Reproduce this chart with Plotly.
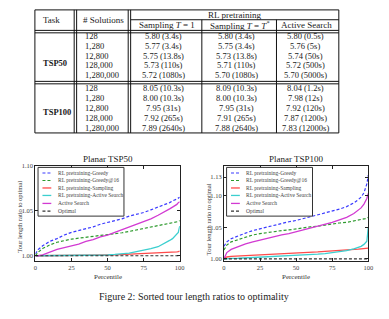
import plotly.graph_objects as go

W, H = 389, 319
SERIF = "Liberation Serif"

# ---------------- table data ----------------
rl_header = "RL pretraining"
col_headers = ["Task", "# Solutions", "Sampling <i>T</i> = 1",
               "Sampling <i>T</i> = <i>T</i><sup>*</sup>", "Active Search"]
tasks = ["TSP50", "TSP100"]
n_solutions = ["128", "1,280", "12,800", "128,000", "1,280,000"]
tsp50_sampling_t1 = ["5.80 (3.4s)", "5.77 (3.4s)", "5.75 (13.8s)", "5.73 (110s)", "5.72 (1080s)"]
tsp50_sampling_tstar = ["5.80 (3.4s)", "5.75 (3.4s)", "5.73 (13.8s)", "5.71 (110s)", "5.70 (1080s)"]
tsp50_active = ["5.80 (0.5s)", "5.76 (5s)", "5.74 (50s)", "5.72 (500s)", "5.70 (5000s)"]
tsp100_sampling_t1 = ["8.05 (10.3s)", "8.00 (10.3s)", "7.95 (31s)", "7.92 (265s)", "7.89 (2640s)"]
tsp100_sampling_tstar = ["8.09 (10.3s)", "8.00 (10.3s)", "7.95 (31s)", "7.91 (265s)", "7.88 (2640s)"]
tsp100_active = ["8.04 (1.2s)", "7.98 (12s)", "7.92 (120s)", "7.87 (1200s)", "7.83 (12000s)"]

# ---------------- chart data ----------------
series_names = ["RL pretraining-Greedy", "RL pretraining-Greedy@16", "RL pretraining-Sampling",
                "RL pretraining-Active Search", "Active Search", "Optimal"]
chart_titles = ["Planar TSP50", "Planar TSP100"]
pct = [0, 1, 2, 5, 10, 15, 20, 25, 30, 35, 40, 45, 50, 55, 60, 65, 70, 75, 80, 85, 90, 93, 95, 97, 98, 99, 100]

tsp50_greedy = [1.002, 1.005, 1.007, 1.011, 1.016, 1.019, 1.023, 1.026, 1.028, 1.030, 1.032, 1.035, 1.037,
                1.039, 1.041, 1.044, 1.046, 1.048, 1.051, 1.054, 1.057, 1.059, 1.061, 1.062, 1.063, 1.064, 1.065]
tsp50_greedy16 = [1.000, 1.002, 1.004, 1.008, 1.012, 1.015, 1.017, 1.0185, 1.0195, 1.0205, 1.0215, 1.022, 1.023,
                  1.024, 1.0255, 1.027, 1.0285, 1.030, 1.0315, 1.033, 1.035, 1.036, 1.0365, 1.037, 1.0375, 1.038, 1.039]
tsp50_sampling = [1.000, 1.000, 1.000, 1.000, 1.000, 1.000, 1.0001, 1.0001, 1.0002, 1.0002, 1.0003, 1.0005, 1.0008,
                  1.001, 1.0013, 1.0016, 1.002, 1.0023, 1.0027, 1.003, 1.0035, 1.0038, 1.004, 1.0042, 1.0043, 1.0045, 1.005]
tsp50_rl_active = [1.000, 1.000, 1.000, 1.000, 1.000, 1.000, 1.000, 1.000, 1.000, 1.0001, 1.0002, 1.0004, 1.0008,
                   1.0014, 1.002, 1.003, 1.0045, 1.006, 1.0078, 1.010, 1.014, 1.017, 1.019, 1.022, 1.024, 1.026, 1.033]
tsp50_active_search = [1.000, 1.000, 1.000, 1.001, 1.004, 1.007, 1.009, 1.011, 1.013, 1.016, 1.018, 1.021, 1.023,
                       1.026, 1.029, 1.032, 1.035, 1.038, 1.041, 1.045, 1.049, 1.052, 1.054, 1.056, 1.057, 1.059, 1.060]

tsp100_greedy = [1.020, 1.024, 1.027, 1.032, 1.037, 1.041, 1.045, 1.048, 1.051, 1.054, 1.056, 1.059, 1.061,
                 1.064, 1.066, 1.069, 1.072, 1.076, 1.079, 1.083, 1.089, 1.094, 1.098, 1.105, 1.111, 1.119, 1.133]
tsp100_greedy16 = [1.014, 1.019, 1.022, 1.027, 1.031, 1.035, 1.038, 1.040, 1.042, 1.043, 1.045, 1.046, 1.048,
                   1.049, 1.051, 1.052, 1.054, 1.055, 1.057, 1.058, 1.060, 1.061, 1.062, 1.063, 1.064, 1.065, 1.066]
tsp100_sampling = [1.001, 1.002, 1.003, 1.004, 1.0045, 1.005, 1.0055, 1.006, 1.0065, 1.007, 1.0075, 1.008, 1.0088,
                   1.0095, 1.010, 1.011, 1.012, 1.0125, 1.0135, 1.0143, 1.015, 1.0155, 1.016, 1.0163, 1.0165, 1.0168, 1.017]
tsp100_rl_active = [0.9995, 1.000, 1.0003, 1.0008, 1.001, 1.0015, 1.002, 1.0025, 1.003, 1.0035, 1.004, 1.0045, 1.005,
                    1.0055, 1.0065, 1.0075, 1.0085, 1.010, 1.0115, 1.013, 1.016, 1.018, 1.020, 1.023, 1.025, 1.028, 1.050]
tsp100_active_search = [1.000, 1.006, 1.010, 1.015, 1.020, 1.024, 1.027, 1.030, 1.033, 1.035, 1.038, 1.040, 1.043,
                        1.045, 1.048, 1.051, 1.054, 1.058, 1.062, 1.066, 1.072, 1.077, 1.081, 1.087, 1.091, 1.096, 1.104]
optimal_x = [0, 100]
optimal_y = [1.0, 1.0]

y_ticks_50 = [1.00, 1.05, 1.10]
y_ticks_100 = [1.00, 1.05, 1.10, 1.13]
x_ticks = [0, 25, 50, 75, 100]
caption = "Figure 2: Sorted tour length ratios to optimality"

# ---------------- styles ----------------
styles = [
    dict(color="#3a3aff", width=1.2, dash="3px,2px"),
    dict(color="#2e9a2e", width=1.2, dash="3px,2px"),
    dict(color="#ff4a4a", width=1.3, dash="solid"),
    dict(color="#3ccfcf", width=1.3, dash="solid"),
    dict(color="#d23ad2", width=1.3, dash="solid"),
    dict(color="#333333", width=1.2, dash="3px,2px"),
]


def fx(x):
    return x / W


def fy(y):
    return 1 - y / H


fig = go.Figure()

panels = [
    dict(xa="x", ya="y", data=[tsp50_greedy, tsp50_greedy16, tsp50_sampling, tsp50_rl_active, tsp50_active_search]),
    dict(xa="x2", ya="y2", data=[tsp100_greedy, tsp100_greedy16, tsp100_sampling, tsp100_rl_active, tsp100_active_search]),
]
for p in panels:
    for name, ys, st in zip(series_names[:5], p["data"], styles[:5]):
        fig.add_trace(go.Scatter(x=pct, y=ys, mode="lines", name=name, line=st,
                                 xaxis=p["xa"], yaxis=p["ya"], showlegend=False))
    fig.add_trace(go.Scatter(x=optimal_x, y=optimal_y, mode="lines", name=series_names[5], line=styles[5],
                             xaxis=p["xa"], yaxis=p["ya"], showlegend=False))

PLOT_TOP, PLOT_BOT = 164.3, 261.5
left_px = (34.0, 181.0)
right_px = (226.0, 373.0)
tickfont = dict(family=SERIF, size=6.5, color="#444")
axis_common = dict(showline=True, linecolor="#222", linewidth=1, mirror="ticks", ticks="inside",
                   ticklen=3, tickcolor="#222", showgrid=False, zeroline=False, tickfont=tickfont)

fig.update_layout(
    width=W, height=H, margin=dict(l=0, r=0, t=0, b=0),
    paper_bgcolor="white", plot_bgcolor="white", showlegend=False,
    xaxis=dict(domain=[fx(left_px[0]), fx(left_px[1])], range=[0, 100], tickvals=x_ticks, anchor="y", **axis_common),
    yaxis=dict(domain=[fy(PLOT_BOT), fy(PLOT_TOP)], range=[0.9937, 1.10], tickvals=y_ticks_50,
               ticktext=[f"{v:.2f}" for v in y_ticks_50], anchor="x", **axis_common),
    xaxis2=dict(domain=[fx(right_px[0]), fx(right_px[1])], range=[0, 100], tickvals=x_ticks, anchor="y2", **axis_common),
    yaxis2=dict(domain=[fy(PLOT_BOT), fy(PLOT_TOP)], range=[0.996, 1.148], tickvals=y_ticks_100,
                ticktext=[f"{v:.2f}" for v in y_ticks_100], anchor="x2", **axis_common),
)

shapes = []
annotations = []


def line(x0, y0, x1, y1, width=1, color="#111", dash="solid"):
    shapes.append(dict(type="line", xref="paper", yref="paper", x0=fx(x0), y0=fy(y0), x1=fx(x1), y1=fy(y1),
                       line=dict(color=color, width=width, dash=dash)))


def text(x, y, s, size=8.5, anchor="center", color="#1a1a1a", angle=0):
    annotations.append(dict(xref="paper", yref="paper", x=fx(x), y=fy(y), text=s, showarrow=False,
                            xanchor=anchor, yanchor="middle", textangle=angle,
                            font=dict(family=SERIF, size=size, color=color)))


# ---------------- table ----------------
TL, TR, TT, TB = 33.5, 343.0, 6.0, 131.0
line(TL, TT, TR, TT)
line(TL, TB, TR, TB)
line(TL, TT, TL, TB)
line(TR, TT, TR, TB)
for x in (73.5, 76.0, 128.5, 131.0):
    line(x, TT, x, TB)
line(131.0, 16.0, TR, 16.0)
for x in (203.5, 279.5):
    line(x, 16.0, x, TB)
for y in (26.8, 29.3, 78.6, 81.1):
    line(TL, y, TR, y)

text(40, 16, col_headers[0], size=9, anchor="left")
text(103, 16, col_headers[1], size=9)
text(237, 10.8, rl_header, size=9)
text(168, 21.5, col_headers[2], size=9)
text(242, 21.5, col_headers[3], size=9)
text(310, 21.5, col_headers[4], size=9)

sections = [
    (tasks[0], 59.5, 32.3, [tsp50_sampling_t1, tsp50_sampling_tstar, tsp50_active]),
    (tasks[1], 110.0, 85.3, [tsp100_sampling_t1, tsp100_sampling_tstar, tsp100_active]),
]
col_centers = [164.5, 239.0, 309.0]
for task, ty, y0, cols in sections:
    text(40, ty, f"<b>{task}</b>", size=8.5, anchor="left")
    for i, ns in enumerate(n_solutions):
        yy = y0 + i * 10.05
        text(82.5, yy, ns, size=8.5, anchor="left")
        for cx, col in zip(col_centers, cols):
            text(cx, yy, col[i], size=8.5)

# ---------------- chart decorations ----------------
legend_rows = [171.7, 179.3, 186.9, 194.5, 202.6, 210.5]
for (px0, px1), title, ycenter, ytx in ((left_px, chart_titles[0], 216, 17.5), (right_px, chart_titles[1], 219, 210.5)):
    text((px0 + px1) / 2, 157.5, title, size=9, color="#222")
    text((px0 + px1) / 2, 277.5, "Percentile", size=7, color="#333")
    text(ytx, ycenter, "Tour length ratio to optimal", size=6.5, color="#333", angle=-90)
    bx0 = px0 + 2.7
    shapes.append(dict(type="rect", xref="paper", yref="paper", x0=fx(bx0), x1=fx(bx0 + 87.5),
                       y0=fy(166.0), y1=fy(215.5), fillcolor="white", line=dict(color="#333", width=1)))
    for name, st, ry in zip(series_names, styles, legend_rows):
        line(bx0 + 4.5, ry, bx0 + 13.5, ry, width=st["width"], color=st["color"], dash=st["dash"])
        text(bx0 + 18, ry, name, size=5.5, anchor="left", color="#444")

text(196, 296.7, caption, size=10, color="#222")

fig.update_layout(shapes=shapes, annotations=annotations)
fig.write_html("out.html")
